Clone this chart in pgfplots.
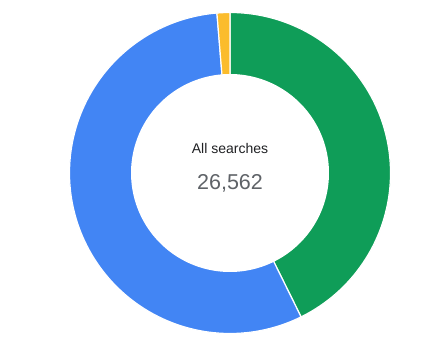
\documentclass[border=0pt]{standalone}
\usepackage{fontspec}
\setmainfont{Liberation Sans}
\usepackage{pgfplots}
\usepackage{pgfplotstable}
\pgfplotsset{compat=1.18}
\definecolor{gGreen}{HTML}{0F9D58}
\definecolor{gBlue}{HTML}{4285F4}
\definecolor{gYellow}{HTML}{FBBC2C}
\definecolor{txtDark}{HTML}{202124}
\definecolor{txtGrey}{HTML}{5F6368}
\pgfplotstableread{
label value
Green 11342
Blue 14875
Yellow 345
}\segdata
\begin{document}
\begin{tikzpicture}
\pgfplotstablegetelem{0}{value}\of\segdata \let\vA\pgfplotsretval
\pgfplotstablegetelem{1}{value}\of\segdata \let\vB\pgfplotsretval
\pgfplotstablegetelem{2}{value}\of\segdata \let\vC\pgfplotsretval
\pgfmathsetmacro\total{\vA/1000+\vB/1000+\vC/1000}
\pgfmathsetmacro\aA{360*(\vA/1000)/\total}
\pgfmathsetmacro\aB{\aA+360*(\vB/1000)/\total}
\begin{axis}[
  hide axis, x=1pt, y=1pt,
  xmin=-230, xmax=197, ymin=-169, ymax=173,
  clip=false, scale only axis,
]
\path (rel axis cs:0,0) rectangle (rel axis cs:1,1);
\addplot[fill=gGreen, draw=white, line width=1.2pt, domain=0:\aA, samples=120, variable=\t]
  ({160.5*sin(\t)},{160.5*cos(\t)}) -- (axis cs:0,0) -- cycle;
\addplot[fill=gBlue, draw=white, line width=1.2pt, domain=\aA:\aB, samples=150, variable=\t]
  ({160.5*sin(\t)},{160.5*cos(\t)}) -- (axis cs:0,0) -- cycle;
\addplot[fill=gYellow, draw=white, line width=1.2pt, domain=\aB:360, samples=10, variable=\t]
  ({160.5*sin(\t)},{160.5*cos(\t)}) -- (axis cs:0,0) -- cycle;
\addplot[fill=white, draw=none, domain=0:360, samples=180, variable=\t]
  ({99*sin(\t)},{99*cos(\t)}) -- cycle;
\node[font=\fontsize{14}{16}\selectfont, text=txtDark] at (axis cs:0,25) {All searches};
\node[font=\fontsize{21.5}{24}\selectfont, text=txtGrey] at (axis cs:0,-10) {26,562};
\end{axis}
\end{tikzpicture}
\end{document}
